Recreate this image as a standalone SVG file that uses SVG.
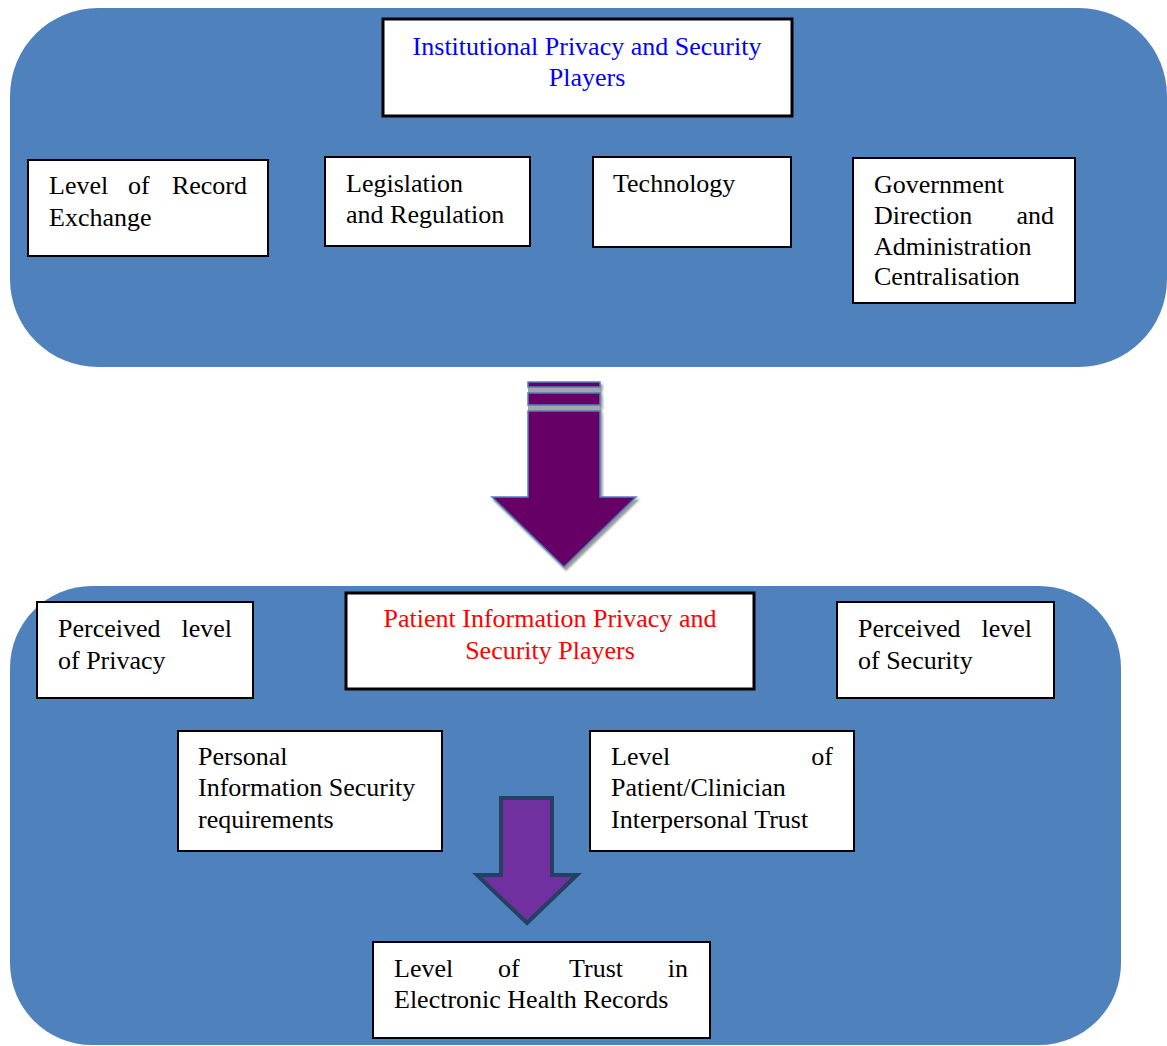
<svg xmlns="http://www.w3.org/2000/svg" width="1167" height="1046" viewBox="0 0 1167 1046">
<style>
.panel{fill:#4F81BD;}
.box{fill:#fff;stroke:#000;stroke-width:2;}
.tbox{fill:#fff;stroke:#000;stroke-width:3;}
.t{font-size:26px;fill:#000;}
.blue{fill:#0000FF;}
.red{fill:#FF0000;}
.end{text-anchor:end;}
.mid{text-anchor:middle;}
</style>
<defs>
<filter id="sh" x="-10%" y="-10%" width="130%" height="130%">
<feDropShadow dx="2" dy="3" stdDeviation="1" flood-color="#808080" flood-opacity="0.8"/>
</filter>
</defs>
<rect class="panel" x="10" y="8" width="1157" height="359" rx="88" ry="88"/>
<rect class="panel" x="10" y="586" width="1111" height="459" rx="82" ry="82"/>

<g id="connectors">
<g id="bigArrow" filter="url(#sh)">
<rect x="528" y="382" width="72" height="29" fill="#A6A6A6"/>
<rect x="528" y="382" width="72" height="5" fill="#660066" stroke="#4F81BD" stroke-width="1.5"/>
<rect x="528" y="393" width="72" height="12" fill="#660066" stroke="#4F81BD" stroke-width="1.5"/>
<polygon points="528,411 600,411 600,497 636,497 564,567 492,497 528,497" fill="#660066" stroke="#4F81BD" stroke-width="1.5"/>
</g>
<polygon id="smallArrow" points="501,798 552,798 552,875 577,875 527,923 477,875 501,875" fill="#7030A0" stroke="#254061" stroke-width="4" stroke-linejoin="miter"/>
</g>

<g font-family="'Liberation Serif', Tinos, 'Times New Roman', 'DejaVu Serif', serif" class="t">
<g id="title1">
<rect class="tbox" x="383" y="19" width="409" height="97"/>
<text class="t blue mid" x="587" y="55">Institutional Privacy and Security</text>
<text class="t blue mid" x="587" y="86">Players</text>
</g>
<g id="recordExchange">
<rect class="box" x="28" y="160" width="240" height="96"/>
<text class="t" x="49" y="194">Level</text>
<text class="t" x="128" y="194">of</text>
<text class="t end" x="247" y="194">Record</text>
<text class="t" x="49" y="226">Exchange</text>
</g>
<g id="legislation">
<rect class="box" x="325" y="157" width="205" height="89"/>
<text class="t" x="346" y="192">Legislation</text>
<text class="t" x="346" y="223">and Regulation</text>
</g>
<g id="technology">
<rect class="box" x="593" y="157" width="198" height="90"/>
<text class="t" x="613" y="192">Technology</text>
</g>
<g id="government">
<rect class="box" x="853" y="158" width="222" height="145"/>
<text class="t" x="874" y="193">Government</text>
<text class="t" x="874" y="224">Direction</text>
<text class="t end" x="1054" y="224">and</text>
<text class="t" x="874" y="255">Administration</text>
<text class="t" x="874" y="285">Centralisation</text>
</g>

<g id="title2">
<rect class="tbox" x="346" y="593" width="408" height="96"/>
<text class="t red mid" x="550" y="627">Patient Information Privacy and</text>
<text class="t red mid" x="550" y="659">Security Players</text>
</g>
<g id="privacy">
<rect class="box" x="37" y="602" width="216" height="96"/>
<text class="t" x="58" y="637">Perceived</text>
<text class="t end" x="232" y="637">level</text>
<text class="t" x="58" y="669">of Privacy</text>
</g>
<g id="security">
<rect class="box" x="837" y="602" width="217" height="96"/>
<text class="t" x="858" y="637">Perceived</text>
<text class="t end" x="1032" y="637">level</text>
<text class="t" x="858" y="669">of Security</text>
</g>
<g id="personalInfo">
<rect class="box" x="178" y="731" width="264" height="120"/>
<text class="t" x="198" y="765">Personal</text>
<text class="t" x="198" y="796">Information Security</text>
<text class="t" x="198" y="828">requirements</text>
</g>
<g id="interpersonal">
<rect class="box" x="590" y="731" width="264" height="120"/>
<text class="t" x="611" y="765">Level</text>
<text class="t end" x="833" y="765">of</text>
<text class="t" x="611" y="796">Patient/Clinician</text>
<text class="t" x="611" y="828">Interpersonal Trust</text>
</g>
<g id="trustEHR">
<rect class="box" x="373" y="942" width="337" height="96"/>
<text class="t" x="394" y="977">Level</text>
<text class="t" x="498" y="977">of</text>
<text class="t" x="569" y="977">Trust</text>
<text class="t end" x="688" y="977">in</text>
<text class="t" x="394" y="1008">Electronic Health Records</text>
</g>
</g>
</svg>
